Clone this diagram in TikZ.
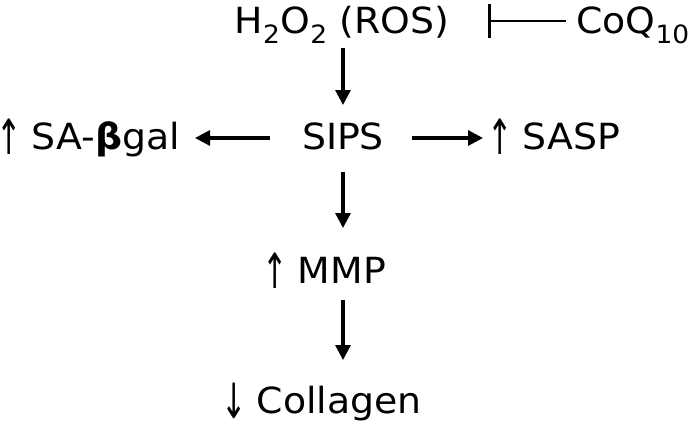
\documentclass[tikz,border=0pt]{standalone}
\usepackage{fontspec}
\setmainfont[FakeStretch=1.05]{DejaVu Sans}
\usetikzlibrary{arrows.meta}
\newcommand{\upar}{\raisebox{-0.14em}{\scalebox{0.8}[1.35]{↑}}\hspace{0.28em}}
\newcommand{\dnar}{\raisebox{-0.14em}{\scalebox{0.8}[1.35]{↓}}\hspace{0.28em}}
\tikzset{
  lbl/.style={anchor=base, inner sep=0pt, font=\fontsize{36}{40}\selectfont},
  conn/.style={line width=3.2pt, -{Triangle[length=15pt,width=15pt]}},
  inhib/.style={line width=2.6pt, -{Bar[width=34pt,line width=3pt]}}
}
\begin{document}
\begin{tikzpicture}[x=1pt,y=-1pt]
\useasboundingbox (0,0) rectangle (692,423);
\node[lbl] (ros) at (342,33) {H\textsubscript{2}O\textsubscript{2} (ROS)};
\node[lbl,anchor=base east] (coq) at (690,33) {CoQ\textsubscript{10}};
\node[lbl] (sips) at (343,149) {SIPS};
\node[lbl,anchor=base east] (sab) at (180,149) {\upar SA-\textbf{β}gal};
\node[lbl,anchor=base east] (sasp) at (620,149) {\upar SASP};
\node[lbl,anchor=base east] (mmp) at (386,283) {\upar MMP};
\node[lbl,anchor=base east] (col) at (422,413) {\dnar Collagen};
% connector ends
\coordinate (r1) at (343,48);
\coordinate (s1) at (343,105);
\coordinate (sL) at (270,138);
\coordinate (bL) at (195,138);
\coordinate (sR) at (412,138);
\coordinate (pR) at (483,138);
\coordinate (s2) at (343,172);
\coordinate (m1) at (343,228);
\coordinate (m2) at (343,300);
\coordinate (c1) at (343,360);
\coordinate (q1) at (566,21);
\coordinate (r2) at (488,21);
\draw[conn] (r1) -- (s1);
\draw[conn] (sL) -- (bL);
\draw[conn] (sR) -- (pR);
\draw[conn] (s2) -- (m1);
\draw[conn] (m2) -- (c1);
\draw[inhib] (q1) -- (r2);
\end{tikzpicture}
\end{document}
